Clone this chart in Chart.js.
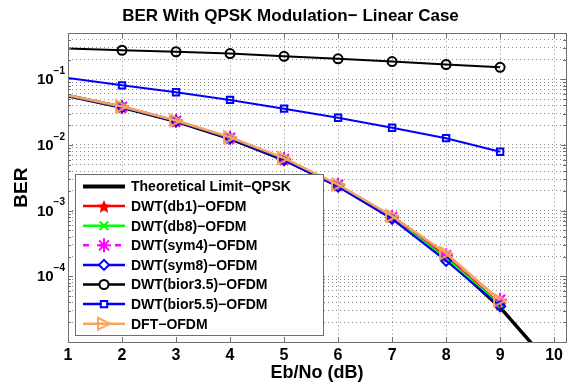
<!DOCTYPE html>
<html>
<head>
<meta charset="utf-8">
<script src="https://cdn.jsdelivr.net/npm/chart.js@4"></script>
<style>
  html, body { margin: 0; padding: 0; background: #fff; }
</style>
</head>
<body>
<canvas id="berChart" width="575" height="385"></canvas>
<script>
// Eb/No values (dB)
var ebno = [1, 2, 3, 4, 5, 6, 7, 8, 9];
var ebnoTheory = [1, 2, 3, 4, 5, 6, 7, 8, 9, 10];
var xTicks = [1, 2, 3, 4, 5, 6, 7, 8, 9, 10];

// BER values
var theoryBer = [0.0563, 0.0375, 0.0229, 0.0125, 0.00595, 0.00239, 0.000773, 0.000191, 0.0000336, 0.00000387];
var db1Ber    = [0.0565, 0.0380, 0.0232, 0.0128, 0.0061, 0.00245, 0.00082, 0.00020, 0.000038];
var db8Ber    = [0.0563, 0.0378, 0.0231, 0.0127, 0.0060, 0.00242, 0.00079, 0.00019, 0.000037];
var sym4Ber   = [0.0566, 0.0381, 0.0233, 0.0129, 0.0061, 0.00248, 0.00080, 0.00021, 0.000044];
var sym8Ber   = [0.0563, 0.0376, 0.0230, 0.0126, 0.0059, 0.00232, 0.00075, 0.000172, 0.000035];
var bior35Ber = [0.294, 0.277, 0.262, 0.247, 0.224, 0.205, 0.186, 0.168, 0.152];
var bior55Ber = [0.105, 0.081, 0.0634, 0.0485, 0.0357, 0.026, 0.0183, 0.0127, 0.0079];
var dftBer    = [0.0570, 0.0386, 0.0236, 0.0131, 0.0063, 0.0025, 0.00083, 0.000225, 0.000043];

// decades on the log axis, and the ones that get a "10^n" label
var yDecades = [-5, -4, -3, -2, -1];
var yLabelExps = [-4, -3, -2, -1];

var FONT = '"Liberation Sans", Arial, sans-serif';

// small canvases used as marker images
function makeMarker(size, draw) {
  var c = document.createElement('canvas');
  c.width = size; c.height = size;
  draw(c.getContext('2d'), size / 2);
  return c;
}
var pentagram = makeMarker(16, function (g, r) {
  g.beginPath();
  for (var i = 0; i < 10; i++) {
    var a = -Math.PI / 2 + i * Math.PI / 5;
    var rr = i % 2 ? r * 0.42 : r - 1;
    g.lineTo(r + rr * Math.cos(a), r + 1 + rr * Math.sin(a));
  }
  g.closePath();
  g.fillStyle = '#ff0000';
  g.fill();
});
var triRight = makeMarker(16, function (g, r) {
  g.beginPath();
  g.moveTo(2, 2);
  g.lineTo(14, 8);
  g.lineTo(2, 14);
  g.closePath();
  g.strokeStyle = '#f7a55e';
  g.lineWidth = 2;
  g.stroke();
});

function pts(xs, ys) {
  return ys.map(function (v, i) { return {x: xs[i], y: v}; });
}
// no marker at the left edge (x = 1)
function radii(n, r) {
  var a = [];
  for (var i = 0; i < n; i++) a.push(i === 0 ? 0 : r);
  return a;
}

var series = [
  {label: 'Theoretical Limit\u2212QPSK', xs: ebnoTheory, ys: theoryBer, color: '#000000', width: 3.5, marker: false, r: 0},
  {label: 'DWT(db1)\u2212OFDM', xs: ebno, ys: db1Ber, color: '#ff0000', width: 2, marker: pentagram, r: 7},
  {label: 'DWT(db8)\u2212OFDM', xs: ebno, ys: db8Ber, color: '#00ff00', width: 2, marker: 'crossRot', r: 6},
  {label: 'DWT(sym4)\u2212OFDM', xs: ebno, ys: sym4Ber, color: '#ff00ff', width: 2, marker: 'star', r: 7, dash: [6, 5]},
  {label: 'DWT(sym8)\u2212OFDM', xs: ebno, ys: sym8Ber, color: '#0000ff', width: 2, marker: 'rectRot', r: 5},
  {label: 'DWT(bior3.5)\u2212OFDM', xs: ebno, ys: bior35Ber, color: '#000000', width: 2, marker: 'circle', r: 4.5},
  {label: 'DWT(bior5.5)\u2212OFDM', xs: ebno, ys: bior55Ber, color: '#0000ff', width: 2, marker: 'rect', r: 4.5},
  {label: 'DFT\u2212OFDM', xs: ebno, ys: dftBer, color: '#f7a55e', width: 2.5, marker: triRight, r: 7}
];

var datasets = series.map(function (s, i) {
  return {
    label: s.label,
    data: pts(s.xs, s.ys),
    borderColor: s.color,
    backgroundColor: 'rgba(0,0,0,0)',
    borderWidth: s.width,
    borderDash: s.dash || [],
    pointStyle: s.marker || 'circle',
    pointRadius: s.marker ? radii(s.ys.length, s.r) : 0,
    pointBorderColor: s.color,
    pointBorderWidth: 2,
    pointBackgroundColor: 'rgba(0,0,0,0)',
    tension: 0,
    order: series.length - i
  };
});

var matlabLook = {
  id: 'matlabLook',
  afterDatasetsDraw: function (chart) {
    var ctx = chart.ctx, a = chart.chartArea;
    var xs = chart.scales.x, ys = chart.scales.y;
    ctx.save();
    // inward tick marks and box
    ctx.strokeStyle = '#6e6e6e';
    ctx.lineWidth = 1;
    ctx.beginPath();
    xTicks.forEach(function (v) {
      var px = Math.round(xs.getPixelForValue(v)) + 0.5;
      ctx.moveTo(px, a.bottom); ctx.lineTo(px, a.bottom - 5);
      ctx.moveTo(px, a.top); ctx.lineTo(px, a.top + 5);
    });
    yDecades.forEach(function (e) {
      for (var m = 1; m < 10; m++) {
        var v = m * Math.pow(10, e);
        if (v > ys.max) break;
        var py = Math.round(ys.getPixelForValue(v)) + 0.5;
        var len = m === 1 ? 5 : 3;
        ctx.moveTo(a.left, py); ctx.lineTo(a.left + len, py);
        ctx.moveTo(a.right, py); ctx.lineTo(a.right - len, py);
      }
    });
    ctx.stroke();
    ctx.strokeRect(Math.round(a.left) + 0.5, Math.round(a.top) + 0.5,
      Math.round(a.right - a.left), Math.round(a.bottom - a.top));

    // y tick labels as 10 with a raised exponent
    ctx.fillStyle = '#000';
    ctx.textBaseline = 'middle';
    yLabelExps.forEach(function (e) {
      var py = ys.getPixelForValue(Math.pow(10, e));
      var expText = '\u2212' + Math.abs(e);
      ctx.font = 'bold 10px ' + FONT;
      var ew = ctx.measureText(expText).width;
      var right = a.left - 3;
      ctx.textAlign = 'left';
      ctx.fillText(expText, right - ew, py - 8);
      ctx.font = 'bold 15px ' + FONT;
      ctx.textAlign = 'right';
      ctx.fillText('10', right - ew, py + 1);
    });
    ctx.restore();
  },
  afterDraw: function (chart) {
    // legend box inside the axes, lower left
    var ctx = chart.ctx;
    var bx = 75.5, by = 174.5, bw = 248, bh = 161, rowH = 19.6;
    ctx.save();
    ctx.fillStyle = '#ffffff';
    ctx.fillRect(bx, by, bw, bh);
    ctx.strokeStyle = '#6e6e6e';
    ctx.lineWidth = 1;
    ctx.strokeRect(bx, by, bw, bh);
    ctx.font = 'bold 14px ' + FONT;
    ctx.textBaseline = 'middle';
    series.forEach(function (s, i) {
      var y = by + 12 + i * rowH;
      ctx.strokeStyle = s.color;
      ctx.lineWidth = s.width === 3.5 ? 4 : 2.5;
      ctx.setLineDash(s.dash ? [6, 10] : []);
      ctx.beginPath();
      ctx.moveTo(83, y); ctx.lineTo(125, y);
      ctx.stroke();
      ctx.setLineDash([]);
      if (s.marker) {
        ctx.strokeStyle = s.color;
        ctx.fillStyle = '#ffffff';
        ctx.lineWidth = 2;
        Chart.helpers.drawPoint(ctx, {pointStyle: s.marker, radius: s.r, borderWidth: 2, rotation: 0}, 104, y);
      }
      ctx.fillStyle = '#000';
      ctx.fillText(s.label, 131, y + 1);
    });
    ctx.restore();
  }
};

var chart = new Chart(document.getElementById('berChart').getContext('2d'), {
  type: 'line',
  data: { datasets: datasets },
  options: {
    responsive: false,
    animation: false,
    layout: { padding: { left: 10, right: 4, top: 0, bottom: 0 } },
    plugins: {
      legend: { display: false },
      tooltip: { enabled: false },
      title: {
        display: true,
        text: 'BER With QPSK Modulation\u2212 Linear Case',
        color: '#000',
        font: { family: FONT, size: 17, weight: 'bold' },
        padding: { top: 6, bottom: 7 }
      }
    },
    scales: {
      x: {
        type: 'linear',
        min: 1,
        max: 10.22,
        afterBuildTicks: function (scale) {
          scale.ticks = xTicks.map(function (v) { return {value: v}; });
        },
        afterFit: function (scale) { scale.height = 43; },
        grid: { color: 'rgba(0,0,0,0.45)', lineWidth: 1, drawTicks: false },
        border: { display: false, dash: [1, 3] },
        ticks: {
          color: '#000',
          padding: 4,
          maxRotation: 0,
          autoSkip: false,
          font: { family: FONT, size: 16, weight: 'bold' }
        },
        title: {
          display: true,
          text: 'Eb/No (dB)',
          color: '#000',
          padding: { top: 0, bottom: 1 },
          font: { family: FONT, size: 18, weight: 'bold' }
        }
      },
      y: {
        type: 'logarithmic',
        min: 0.00001,
        max: 0.5,
        afterBuildTicks: function (scale) {
          var t = [];
          yDecades.forEach(function (e) {
            for (var m = 1; m < 10; m++) {
              var v = m * Math.pow(10, e);
              if (v <= 0.5 + 1e-12) t.push({value: v});
            }
          });
          scale.ticks = t;
        },
        afterFit: function (scale) { scale.width = 58; },
        grid: { color: 'rgba(0,0,0,0.45)', lineWidth: 1, drawTicks: false },
        border: { display: false, dash: [1, 3] },
        ticks: { display: false, autoSkip: false },
        title: {
          display: true,
          text: 'BER',
          color: '#000',
          padding: { top: 0, bottom: 0 },
          font: { family: FONT, size: 19, weight: 'bold' }
        }
      }
    }
  },
  plugins: [matlabLook]
});
</script>
</body>
</html>
